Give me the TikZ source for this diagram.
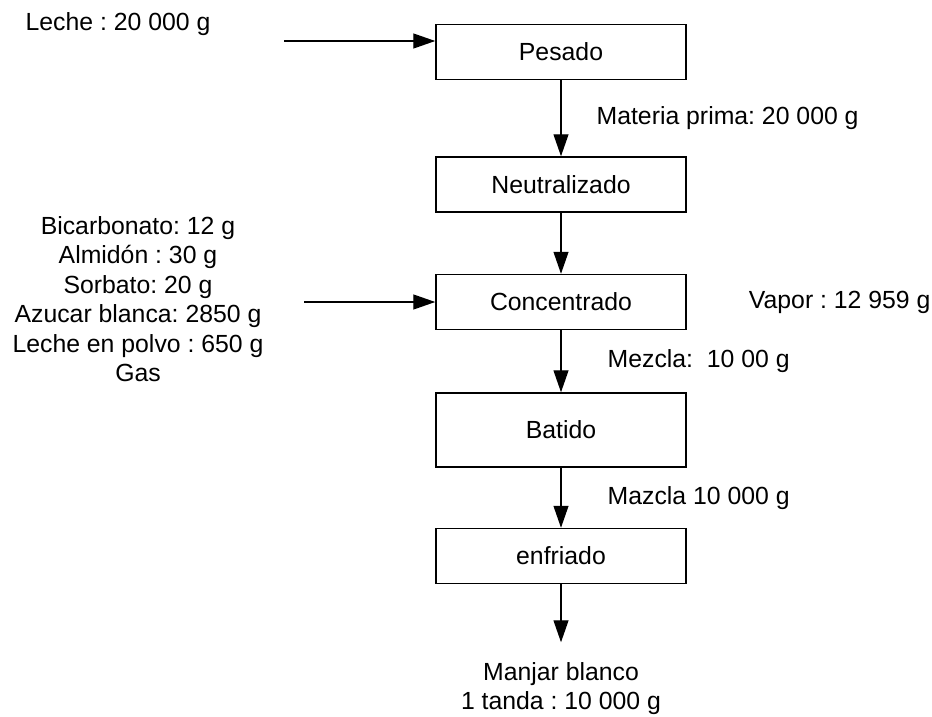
\documentclass[tikz,border=0pt]{standalone}
\usepackage{fontspec}
\setmainfont{Liberation Sans}
\usetikzlibrary{positioning,arrows.meta}
\frenchspacing
\tikzset{
  paso/.style={draw=black, line width=1.5pt, minimum width=250pt, minimum height=55pt, inner sep=0pt},
  flujo/.style={draw=black, line width=1.3pt, -{Triangle[length=22pt,width=15pt]}},
  dato/.style={inner sep=0pt, align=center}
}

\begin{document}
\begin{tikzpicture}[x=1pt, y=1pt, node distance=60pt and 40pt, font=\fontsize{24.8}{29.5}\selectfont]
    \useasboundingbox (0,0) rectangle (932,-717);

    % etapas del proceso
    \node[paso] (pesado) at (561,-52) {Pesado};
    \node[paso, below=76pt of pesado] (neutra) {Neutralizado};
    \node[paso, below=61pt of neutra] (concen) {Concentrado};
    \node[paso, below=62pt of concen, minimum height=74pt] (batido) {Batido};
    \node[paso, below=60pt of batido] (enfri) {enfriado};
    \coordinate[below=58pt of enfri] (salida);
    \node[dato, below=20pt of salida] (manjar) {Manjar blanco\\1 tanda : 10 000 g};

    % entradas
    \node[dato] (leche) at (118,-24) {Leche : 20 000 g};
    \coordinate[left=151pt of pesado.west, yshift=11pt] (in1);
    \node[dato] (insumos) at (138,-299) {Bicarbonato: 12 g\\Almidón : 30 g\\Sorbato: 20 g\\Azucar blanca: 2850 g\\Leche en polvo : 650 g\\Gas};
    \coordinate[left=131pt of concen.west] (in2);
    \node[dato, right=62pt of concen] (vapor) {Vapor : 12 959 g};

    \draw[flujo] (in1) -- (in1 -| pesado.west);
    \draw[flujo] (in2) -- (concen.west);

    \draw[flujo] (pesado) -- node[dato, right=35pt] {Materia prima: 20 000 g} (neutra);
    \draw[flujo] (neutra) -- (concen);
    \draw[flujo] (concen) -- node[dato, right=46pt] {Mezcla:~ 10 00 g} (batido);
    \draw[flujo] (batido) -- node[dato, right=46pt] {Mazcla 10 000 g} (enfri);
    \draw[flujo] (enfri) -- (salida);
\end{tikzpicture}
\end{document}
